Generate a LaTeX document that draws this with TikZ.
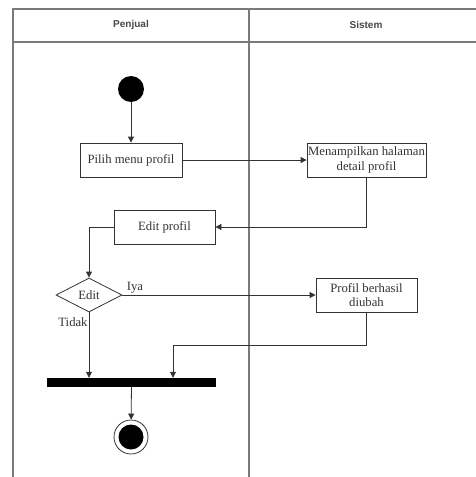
\documentclass[tikz,border=0pt]{standalone}
\usepackage{fontspec}
\setmainfont{Liberation Serif}
\newfontfamily\headfont{Liberation Sans}
\usetikzlibrary{shapes.geometric,arrows.meta}
\definecolor{lane}{HTML}{7A7A7A}
\definecolor{ink}{HTML}{333333}
\begin{document}
\begin{tikzpicture}[x=1pt,y=-1pt,
  txt/.style={font=\fontsize{12.7}{14.5}\selectfont,text=ink},
  actbox/.style={txt,draw=ink,line width=0.8pt,rectangle,inner sep=0pt,align=center},
  flow/.style={draw=ink,line width=0.8pt,-{Triangle[length=6pt,width=6pt]}},
  lanehead/.style={font=\headfont\bfseries\fontsize{10}{12}\selectfont,text=ink!90}]
\useasboundingbox (0,0) rectangle (475,477);
% swimlane frame
\draw[lane,line width=1.6pt] (13,477) -- (13,9) -- (480,9);
\draw[lane,line width=2pt] (13,42) -- (480,42);
\draw[lane,line width=1.6pt] (249,9) -- (249,477);
\node[lanehead] (hpenjual) at (131,25) {Penjual};
\node[lanehead] (hsistem) at (366,25) {Sistem};
% nodes
\node[circle,fill=black,minimum size=26pt,inner sep=0pt] (start) at (131,89) {};
\node[actbox,minimum width=102pt,minimum height=34pt] (pilih) at (131,160) {Pilih menu profil};
\node[actbox,minimum width=119pt,minimum height=34pt] (tampil) at (366.5,160) {Menampilkan halaman\\detail profil};
\node[actbox,minimum width=101pt,minimum height=34pt] (edit) at (164.5,227) {Edit profil};
\node[txt,diamond,draw=ink,line width=0.8pt,minimum width=66pt,minimum height=34pt,inner sep=0pt,aspect=2] (dec) at (89,295) {Edit};
\node[actbox,minimum width=101pt,minimum height=34pt] (hasil) at (366.5,295) {Profil berhasil\\diubah};
\node[fill=black,minimum width=169pt,minimum height=9pt,inner sep=0pt] (bar) at (131.5,382.5) {};
\node[circle,draw=ink,line width=0.8pt,minimum size=34pt,inner sep=0pt] (finish) at (131,437) {};
\node[circle,fill=black,minimum size=25pt,inner sep=0pt] (finishdot) at (131,437) {};
% labels
\node[txt,inner sep=0pt] (iya) at (135,288) {Iya};
\node[txt,inner sep=0pt] (tidak) at (73,322) {Tidak};
% connectors
\draw[flow] (start) -- (pilih);
\draw[flow] (pilih) -- (tampil);
\draw[flow] (tampil.south) |- (edit.east);
\draw[flow] (edit.west) -| (dec.north);
\draw[flow] (dec.east) -- (hasil.west);
\draw[flow] (dec.south) -- (dec.south |- bar.north);
\coordinate (bend) at (173,345);
\draw[flow] (hasil.south) |- (bend) -- (bend |- bar.north);
\draw[flow] (bar) -- (finish);
\end{tikzpicture}
\end{document}
